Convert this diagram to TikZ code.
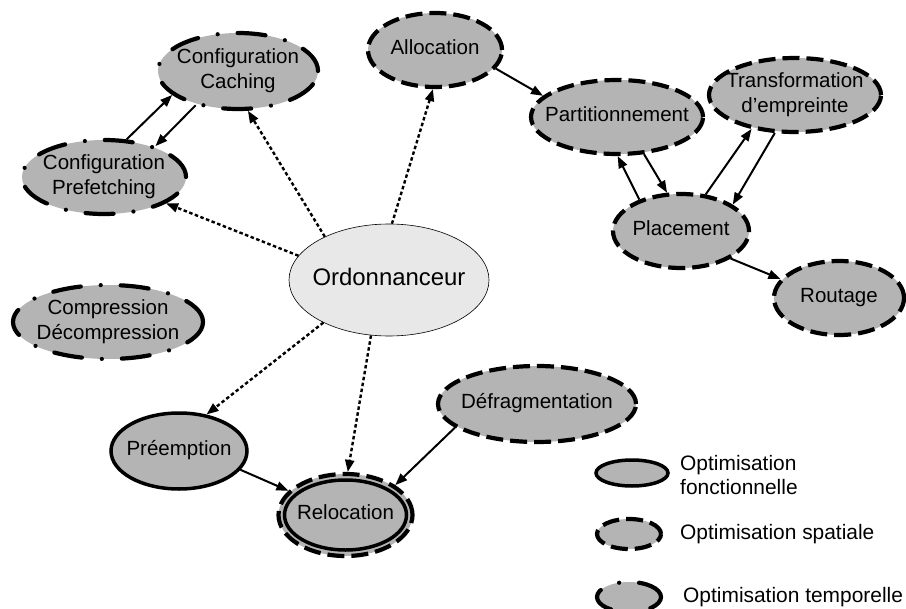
\documentclass[tikz,border=0pt]{standalone}
\usepackage{fontspec}
\setmainfont{Liberation Sans}
\usetikzlibrary{shapes.geometric,arrows.meta}
\definecolor{gfill}{RGB}{180,180,180}
\definecolor{ofill}{RGB}{232,232,232}
\newcommand{\zt}[1]{\makebox[0pt]{\begin{tabular}{@{}c@{}}#1\end{tabular}}}
\tikzset{
  sz/.style 2 args={minimum width=#1bp, minimum height=#2bp},
  base/.style={ellipse, inner sep=0pt, fill=gfill, font=\fontsize{20.6}{24.5}\selectfont},
  func/.style={base, draw, line width=3.5bp},
  spat/.style={base, draw, line width=4.2bp, dash pattern=on 17bp off 7bp},
  temp/.style={base, draw, line width=4.2bp, line cap=round, dash pattern=on 28bp off 20bp on 0bp off 20bp},
  sarr/.style={-{Triangle[length=12bp,width=9bp]}, line width=2bp},
  darr/.style={-{Triangle[length=12bp,width=9bp]}, line width=2.4bp, dash pattern=on 3.5bp off 2.5bp},
  legtxt/.style={anchor=west, align=left, inner sep=0pt, font=\fontsize{21}{25}\selectfont}
}
\begin{document}
\begin{tikzpicture}[x=1bp, y=-1bp]
\useasboundingbox (0,0) rectangle (906,609);
% nodes
\node[temp, sz={160}{76}] (cc) at (238,71) {\zt{Configuration\\Caching}};
\node[temp, sz={164}{74}] (cp) at (104,177) {\zt{Configuration\\Prefetching}};
\node[spat, sz={134}{74}] (al) at (435,50) {\zt{Allocation}};
\node[spat, sz={172}{74}] (pa) at (617,117) {\zt{Partitionnement}};
\node[spat, sz={172}{74}] (tr) at (795,95) {\zt{Transformation\\d'empreinte}};
\node[spat, sz={136}{74}] (pl) at (681,231) {\zt{Placement}};
\node[spat, sz={130}{74}] (ro) at (839,298) {\zt{Routage}};
\node[draw, ellipse, fill=ofill, line width=0.6bp, sz={200}{112}, inner sep=0pt, font=\fontsize{24}{28}\selectfont] (or) at (389,280) {\zt{Ordonnanceur}};
\node[temp, sz={190}{74}] (co) at (108,322) {\zt{Compression\\Décompression}};
\node[func, sz={136}{76}] (pr) at (179,451) {\zt{Préemption}};
\node[spat, sz={134}{82}] (re) at (345.5,515) {};
\node[func, sz={122}{70}] (rei) at (345.5,515) {\zt{Relocation}};
\node[spat, sz={198}{76}] (de) at (537,404) {\zt{Défragmentation}};
% legend
\node[func, sz={72}{26}] (l1) at (632,473) {};
\node[spat, sz={64}{30}] (l2) at (629,534) {};
\node[temp, sz={64}{30}] (l3) at (629,597) {};
\node[legtxt] (t1) at (680,475) {Optimisation\\fonctionnelle};
\node[legtxt] (t2) at (680,534) {Optimisation spatiale};
\node[legtxt] (t3) at (683,597) {Optimisation temporelle};
% solid arrows
\draw[sarr] (cp.59) -- (cc.200);
\draw[sarr] (cc.219) -- (cp.31);
\draw[sarr] (al.343) -- (pa.164);
\draw[sarr] (pl.143) -- (pa.271);
\draw[sarr] (pa.306) -- (pl.110);
\draw[sarr] (pl.56) -- (tr.218);
\draw[sarr] (tr.242) -- (pl.27);
\draw[sarr] (pl.331) -- (ro.162);
\draw[sarr] (pr.343) -- (re.157);
\draw[sarr] (de.196) -- (re.31);
% dotted arrows
\draw[darr] (or.146) -- (cc.284);
\draw[darr] (or.165) -- (cp.337);
\draw[darr] (or.87) -- (al.267);
\draw[darr] (or.213) -- (pr.53);
\draw[darr] (or.252) -- (re.87);
\end{tikzpicture}
\end{document}
